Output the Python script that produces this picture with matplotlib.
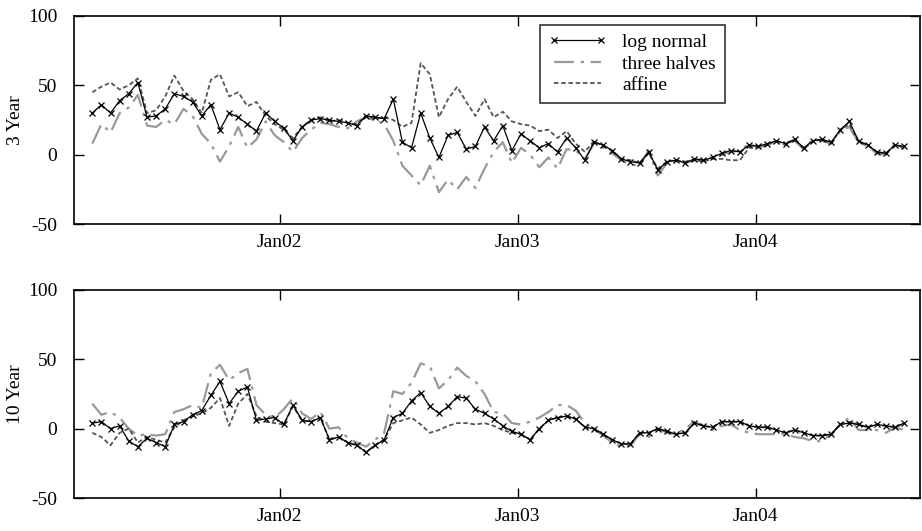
"""
Spread of model-implied vs market swaption volatilities, 3Y and 10Y tenors.
Three model families: log normal, three halves, affine.
"""

import numpy as np
import pandas as pd
import matplotlib
matplotlib.use("Agg")
import matplotlib.pyplot as plt
import matplotlib.dates as mdates

plt.rcParams["font.family"] = ["Liberation Serif", "DejaVu Serif"]
plt.rcParams["axes.unicode_minus"] = False

# -- Data (fortnightly) --------------------------------------------------------
DATES = pd.date_range("2001-03-19", periods=90, freq="14D")

LOGNORMAL_3Y = [30, 36, 30, 39, 44, 52, 27, 28, 33, 44, 42, 38, 28, 36, 18, 30, 27, 22, 17, 30,
                24, 19, 10, 20, 25, 26, 25, 24, 23, 21, 28, 27, 26, 40, 9, 5, 30, 12, -2, 14,
                16, 4, 6, 20, 10, 21, 3, 15, 10, 5, 8, 2, 12, 5, -4, 9, 7, 3, -3, -5,
                -6, 2, -11, -5, -4, -6, -3, -4, -2, 1, 3, 2, 7, 6, 8, 10, 8, 11, 5, 10,
                11, 9, 18, 24, 10, 7, 2, 1, 7, 6]
THREEHALVES_3Y = [8, 22, 16, 30, 34, 43, 21, 20, 25, 22, 33, 28, 15, 8, -5, 6, 20, 5, 11, 24,
                  14, 9, 2, 12, 18, 23, 22, 20, 19, 24, 27, 25, 22, 10, -8, -15, -22, -8, -27, -18,
                  -25, -16, -24, -10, 2, 9, -6, 5, 0, -9, -2, -10, 4, 3, -3, 8, 5, 1, -4, -7,
                  -8, 3, -15, -6, -5, -6, -4, -3, -2, 0, 2, 3, 8, 5, 7, 9, 9, 10, 4, 11,
                  10, 8, 17, 20, 9, 6, 1, 0, 8, 4]
AFFINE_3Y = [45, 49, 52, 47, 50, 55, 30, 32, 42, 57, 46, 40, 30, 54, 58, 42, 45, 35, 38, 28,
             22, 18, 12, 20, 25, 27, 24, 25, 23, 22, 28, 26, 27, 25, 20, 23, 66, 58, 27, 40,
             49, 38, 28, 40, 27, 31, 24, 22, 21, 17, 18, 12, 17, 8, 2, 10, 6, 3, -3, -4,
             -6, 1, -10, -5, -4, -5, -4, -5, -3, -3, -4, -4, 5, 6, 7, 10, 7, 11, 4, 10,
             11, 8, 18, 22, 9, 7, 2, 1, 7, 5]

LOGNORMAL_10Y = [4, 5, 0, 2, -9, -13, -7, -10, -13, 3, 5, 10, 13, 24, 34, 18, 27, 30, 6, 7,
                 8, 3, 17, 6, 5, 8, -8, -6, -10, -12, -17, -12, -8, 8, 11, 20, 26, 16, 11, 16,
                 23, 22, 14, 11, 7, 2, -2, -4, -8, 0, 6, 8, 9, 7, 1, 0, -4, -8, -11, -11,
                 -3, -3, 0, -2, -4, -3, 4, 2, 1, 5, 5, 5, 2, 1, 1, -1, -3, -1, -3, -5,
                 -5, -4, 3, 4, 3, 1, 3, 2, 1, 4]
THREEHALVES_10Y = [18, 10, 12, 8, 0, -5, -4, -5, -4, 12, 14, 17, 15, 40, 46, 35, 40, 43, 17, 10,
                   8, 14, 22, 11, 7, 12, 0, 1, -7, -10, -13, -8, -3, 27, 25, 33, 47, 45, 29, 35,
                   44, 38, 34, 25, 12, 11, 4, 3, 5, 8, 12, 17, 17, 13, 4, 0, -5, -10, -13, -12,
                   -4, -6, 0, -3, -4, 0, 5, 2, -1, 2, 3, -1, -3, -4, -4, -4, -4, -6, -7, -9,
                   -9, -4, 3, 8, -1, -1, -1, -3, 1, -1]
AFFINE_10Y = [-3, -6, -12, -3, 0, -10, -6, -8, -10, 1, 6, 9, 11, 15, 22, 2, 18, 25, 9, 5,
              4, 3, 16, 6, 5, 8, -8, -6, -10, -12, -17, -12, -8, 4, 6, 8, 3, -3, -1, 2,
              4, 4, 3, 4, 2, -1, -3, -4, -8, 0, 6, 8, 9, 7, 1, 0, -4, -8, -11, -11,
              -3, -3, 0, -2, -4, -3, 4, 2, 1, 5, 5, 5, 2, 1, 1, -1, -3, -1, -3, -5,
              -5, -4, 3, 5, 3, 1, 3, 2, 1, 4]

SERIES_NAMES = ["log normal", "three halves", "affine"]
PANEL_LABELS = ["3 Year", "10 Year"]
X_TICKS = ["2002-01-01", "2003-01-01", "2004-01-01"]
Y_TICKS = [-50, 0, 50, 100]

# -- Config --------------------------------------------------------------------
OUTPUT_FILE = "out.png"
X_RANGE = ("2001-02-19", "2004-09-10")
FONT_SIZE = 14


def draw_panel(ax, lognormal, threehalves, affine, label):
    ax.plot(DATES, threehalves, color="#999999", linewidth=1.6,
            dashes=(9, 3, 1.5, 3), label=SERIES_NAMES[1], zorder=2)
    ax.plot(DATES, affine, color="#555555", linewidth=1.3,
            dashes=(2.5, 1.5), label=SERIES_NAMES[2], zorder=3)
    ax.plot(DATES, lognormal, color="black", linewidth=0.9, marker="x",
            markersize=5, markeredgewidth=0.9, label=SERIES_NAMES[0], zorder=4)

    ax.set_xlim(pd.Timestamp(X_RANGE[0]), pd.Timestamp(X_RANGE[1]))
    ax.set_ylim(-50, 100)
    ax.set_yticks(Y_TICKS)
    ax.set_yticklabels([str(v) for v in Y_TICKS])
    ax.set_xticks([pd.Timestamp(d) for d in X_TICKS])
    ax.xaxis.set_major_formatter(mdates.DateFormatter("Jan%y"))
    ax.tick_params(direction="in", length=7, width=1, top=True, right=True,
                   labelsize=FONT_SIZE)
    ax.tick_params(axis="y", pad=12)
    ax.tick_params(axis="x", pad=7)
    ax.set_ylabel(label, fontsize=FONT_SIZE, labelpad=3)
    for sp in ax.spines.values():
        sp.set_linewidth(1.2)


fig = plt.figure(figsize=(9.22, 5.31), dpi=100)
ax_top = fig.add_axes([0.0803, 0.578, 0.918, 0.392])
ax_bot = fig.add_axes([0.0803, 0.0621, 0.918, 0.392])

draw_panel(ax_top, LOGNORMAL_3Y, THREEHALVES_3Y, AFFINE_3Y, PANEL_LABELS[0])
draw_panel(ax_bot, LOGNORMAL_10Y, THREEHALVES_10Y, AFFINE_10Y, PANEL_LABELS[1])

handles, labels = ax_top.get_legend_handles_labels()
order = [2, 0, 1]
leg = ax_top.legend([handles[i] for i in order], [labels[i] for i in order],
                    loc="upper right", bbox_to_anchor=(0.769, 0.957), borderaxespad=0,
                    fontsize=FONT_SIZE, frameon=True, fancybox=False, numpoints=2,
                    handlelength=3.0, labelspacing=0.2, borderpad=0.45,
                    handletextpad=0.8)
leg.get_frame().set_edgecolor("black")
leg.get_frame().set_linewidth(1.2)

fig.savefig(OUTPUT_FILE, dpi=100)
plt.close(fig)
